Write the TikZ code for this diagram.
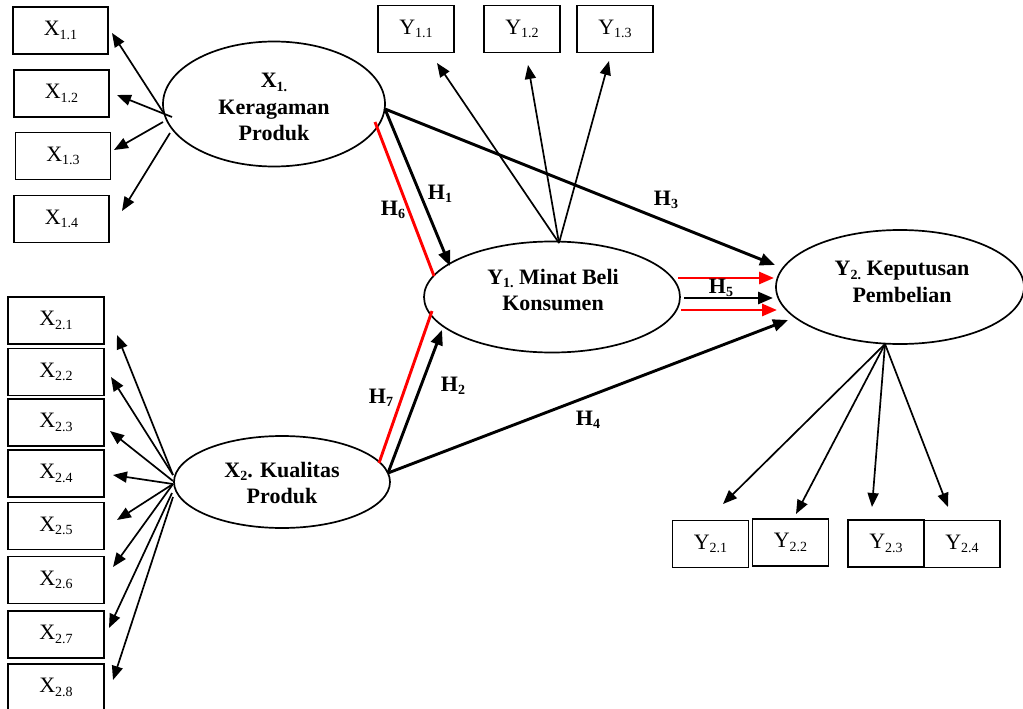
\documentclass[tikz,border=0pt]{standalone}
\usepackage{fontspec}
\setmainfont{Liberation Serif}
\usetikzlibrary{arrows.meta,shapes.geometric}
\newcommand\sbs[1]{\raisebox{-3.5pt}{\fontsize{14}{14}\selectfont #1}}
\begin{document}
\begin{tikzpicture}[x=1pt,y=-1pt,
  ind/.style={draw, line width=1.7pt, minimum height=47pt, inner sep=0pt, font=\fontsize{22}{24}\selectfont},
  lat/.style={draw, ellipse, line width=1.7pt, inner sep=0pt},
  ltx/.style={align=center, inner sep=0pt, font=\bfseries\fontsize{22}{26.5}\selectfont},
  ia/.style={-{Triangle[length=14pt,width=11pt]}, line width=1.7pt},
  ha/.style={-{Triangle[length=15pt,width=12pt]}, line width=2.9pt},
  rl/.style={red, line width=2.9pt},
  hl/.style={font=\bfseries\fontsize{22}{24}\selectfont},
]
\useasboundingbox[fill=white] (0,0) rectangle (1023,709);

% latent variables
\node[lat, minimum width=222pt, minimum height=125pt] (X1) at (274,104) {};
\node[lat, minimum width=216pt, minimum height=92pt] (X2) at (282,482) {};
\node[lat, minimum width=256pt, minimum height=111pt] (Y1) at (552,297) {};
\node[lat, minimum width=248pt, minimum height=114pt] (Y2) at (900,287) {};
\node[ltx] (X1t) at (274,107) {X\sbs{1.}\\Keragaman\\Produk};
\node[ltx] (X2t) at (282,483) {X\sbs{2}. Kualitas\\Produk};
\node[ltx] (Y1t) at (553,290) {Y\sbs{1.} Minat Beli\\Konsumen};
\node[ltx] (Y2t) at (902,282) {Y\sbs{2.} Keputusan\\Pembelian};

% X1 indicators
\node[ind, minimum width=95pt] (x11) at (60.5,30.5) {X\sbs{1.1}};
\node[ind, minimum width=95pt] (x12) at (61.5,93.5) {X\sbs{1.2}};
\node[ind, minimum width=95pt] (x13) at (63,156) {X\sbs{1.3}};
\node[ind, minimum width=95pt] (x14) at (61.5,219) {X\sbs{1.4}};

% Y1 indicators
\node[ind, minimum width=76pt] (y11) at (416,29) {Y\sbs{1.1}};
\node[ind, minimum width=76pt] (y12) at (522,29) {Y\sbs{1.2}};
\node[ind, minimum width=76pt] (y13) at (615,29) {Y\sbs{1.3}};

% X2 indicators
\node[ind, minimum width=96pt] (x21) at (56,320.5) {X\sbs{2.1}};
\node[ind, minimum width=96pt] (x22) at (56,372) {X\sbs{2.2}};
\node[ind, minimum width=96pt] (x23) at (56,422.5) {X\sbs{2.3}};
\node[ind, minimum width=96pt] (x24) at (56,473.5) {X\sbs{2.4}};
\node[ind, minimum width=96pt] (x25) at (56,526) {X\sbs{2.5}};
\node[ind, minimum width=96pt] (x26) at (56,580) {X\sbs{2.6}};
\node[ind, minimum width=96pt] (x27) at (56,634.5) {X\sbs{2.7}};
\node[ind, minimum width=96pt] (x28) at (56,687.5) {X\sbs{2.8}};

% Y2 indicators
\node[ind, minimum width=76pt] (y21) at (710.5,544) {Y\sbs{2.1}};
\node[ind, minimum width=76pt] (y22) at (790.5,542.5) {Y\sbs{2.2}};
\node[ind, minimum width=76pt] (y23) at (886,543.5) {Y\sbs{2.3}};
\node[ind, minimum width=76pt] (y24) at (962,544) {Y\sbs{2.4}};

% X1 indicator arrows
\coordinate (a11) at (163,112); \coordinate (t11) at (112,33);
\coordinate (a12) at (172,117); \coordinate (t12) at (117,95);
\coordinate (a13) at (163,122); \coordinate (t13) at (114,150);
\coordinate (a14) at (170,133); \coordinate (t14) at (122,211);
\draw[ia] (a11) -- (t11);
\draw[ia] (a12) -- (t12);
\draw[ia] (a13) -- (t13);
\draw[ia] (a14) -- (t14);

% Y1 indicator arrows
\coordinate (b1) at (559,243);
\coordinate (u11) at (437,63); \coordinate (u12) at (528,65); \coordinate (u13) at (609,61);
\draw[ia] (b1) -- (u11);
\draw[ia] (b1) -- (u12);
\draw[ia] (b1) -- (u13);

% X2 indicator arrows
\coordinate (c1) at (173,475); \coordinate (c2) at (173,481);
\coordinate (c3) at (173,484); \coordinate (c4) at (172,493); \coordinate (c5) at (173,497);
\coordinate (v21) at (117,335); \coordinate (v22) at (111,377);
\coordinate (v23) at (110,431); \coordinate (v24) at (113,475);
\coordinate (v25) at (117,520); \coordinate (v26) at (113,567);
\coordinate (v27) at (109,628); \coordinate (v28) at (113,680);
\draw[ia] (c1) -- (v21);
\draw[ia] (c1) -- (v22);
\draw[ia] (c2) -- (v23);
\draw[ia] (c3) -- (v24);
\draw[ia] (c3) -- (v25);
\draw[ia] (c3) -- (v26);
\draw[ia] (c4) -- (v27);
\draw[ia] (c5) -- (v28);

% Y2 indicator arrows
\coordinate (d1) at (885,344);
\coordinate (w21) at (723,504); \coordinate (w22) at (796,514);
\coordinate (w23) at (872,507); \coordinate (w24) at (948,507);
\draw[ia] (d1) -- (w21);
\draw[ia] (d1) -- (w22);
\draw[ia] (d1) -- (w23);
\draw[ia] (d1) -- (w24);

% structural paths
\coordinate (e1) at (385,109);
\coordinate (e2) at (388,473);
\coordinate (h1t) at (450,266);
\coordinate (h2t) at (442,330);
\coordinate (h3t) at (775,265);
\coordinate (h4t) at (788,320);
\draw[ha] (e1) -- (h1t);
\draw[ha] (e1) -- (h3t);
\draw[ha] (e2) -- (h2t);
\draw[ha] (e2) -- (h4t);

\coordinate (r6a) at (375,122); \coordinate (r6b) at (434,276);
\coordinate (r7a) at (379,463); \coordinate (r7b) at (432,311);
\draw[rl] (r6a) -- (r6b);
\draw[rl] (r7a) -- (r7b);

% H5 arrows
\coordinate (f1) at (678,278); \coordinate (g1) at (774,278);
\coordinate (f2) at (684,298); \coordinate (g2) at (773,298);
\coordinate (f3) at (681,310); \coordinate (g3) at (777,310);
\draw[ha, red] (f1) -- (g1);
\draw[ha] (f2) -- (g2);
\draw[ha, red] (f3) -- (g3);

% labels
\node[hl] (lh1) at (440,194) {H\sbs{1}};
\node[hl] (lh2) at (453,386) {H\sbs{2}};
\node[hl] (lh3) at (666,200) {H\sbs{3}};
\node[hl] (lh4) at (588,420) {H\sbs{4}};
\node[hl] (lh5) at (721,288) {H\sbs{5}};
\node[hl] (lh6) at (393,210) {H\sbs{6}};
\node[hl] (lh7) at (381,398) {H\sbs{7}};
\end{tikzpicture}
\end{document}
